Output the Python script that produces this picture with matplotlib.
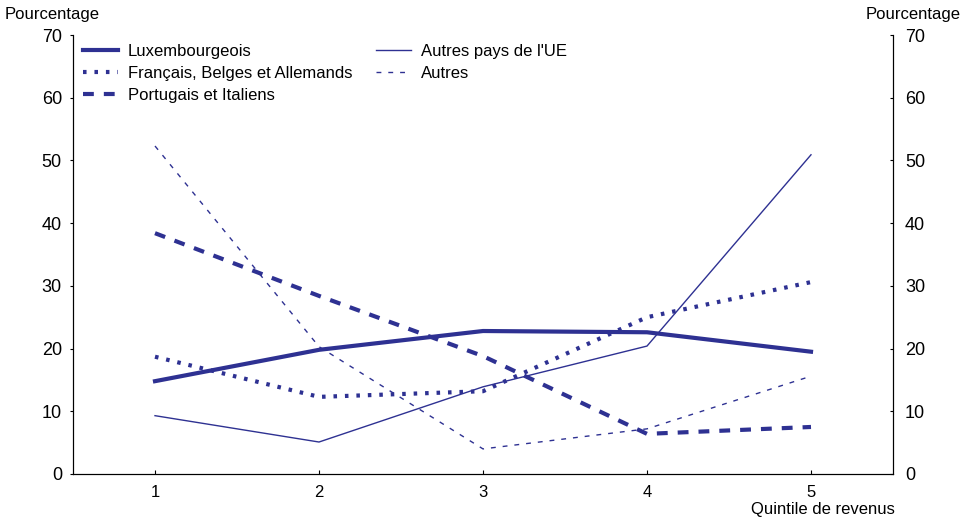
import matplotlib
matplotlib.use('Agg')
import matplotlib.pyplot as plt

quintiles = [1, 2, 3, 4, 5]
luxembourgeois = [14.8, 19.8, 22.8, 22.6, 19.5]
fr_be_de = [18.7, 12.3, 13.2, 25.0, 30.6]
pt_it = [38.4, 28.4, 18.8, 6.4, 7.5]
autres_ue = [9.3, 5.1, 13.9, 20.4, 50.9]
autres = [52.3, 20.3, 4.0, 7.2, 15.6]
yticks = list(range(0, 71, 10))

color = '#2E3192'
plt.rcParams['font.family'] = ['Liberation Sans', 'DejaVu Sans']

fig = plt.figure(figsize=(9.69, 5.19), dpi=100)
ax = fig.add_axes([73 / 969, 1 - 474 / 519, 820 / 969, 439 / 519])

ax.plot(quintiles, luxembourgeois, color=color, lw=3.0, label='Luxembourgeois')
ax.plot(quintiles, fr_be_de, color=color, lw=3.0, ls=(0, (0.85, 1.9)),
        label='Français, Belges et Allemands')
ax.plot(quintiles, pt_it, color=color, lw=3.0, ls=(0, (2.6, 2.4)),
        label='Portugais et Italiens')
ax.plot(quintiles, autres_ue, color=color, lw=1.0, label="Autres pays de l'UE")
ax.plot(quintiles, autres, color=color, lw=1.0, ls=(0, (3.5, 5)), label='Autres')

ax.set_xlim(0.5, 5.5)
ax.set_ylim(0, 70)
ax.set_xticks(quintiles)
ax.set_yticks(yticks)
ax.spines['top'].set_visible(False)
ax.tick_params(axis='x', direction='in', labelsize=12, length=3, pad=8.0)
ax.tick_params(axis='y', direction='out', labelsize=13, length=2.2, pad=5.8)

# right axis: same scale, inward ticks
ax2 = ax.twinx()
ax2.set_ylim(0, 70)
ax2.set_yticks(yticks)
ax2.spines['top'].set_visible(False)
ax2.tick_params(axis='y', direction='in', labelsize=13, length=2.2, pad=8.6)

ax.legend(loc='upper left', ncol=2, frameon=False, fontsize=12,
          handlelength=2.1, handletextpad=0.6, columnspacing=1.4,
          labelspacing=0.42, borderaxespad=0, borderpad=0.4,
          bbox_to_anchor=(0.0037, 0.995))

fig.text(5 / 969, 1 - 14 / 519, 'Pourcentage', fontsize=12, ha='left', va='center')
fig.text(961 / 969, 1 - 14 / 519, 'Pourcentage', fontsize=12, ha='right', va='center')
fig.text(895 / 969, 1 - 514 / 519, 'Quintile de revenus', fontsize=12, ha='right', va='baseline')

fig.savefig('out.png', dpi=100)
